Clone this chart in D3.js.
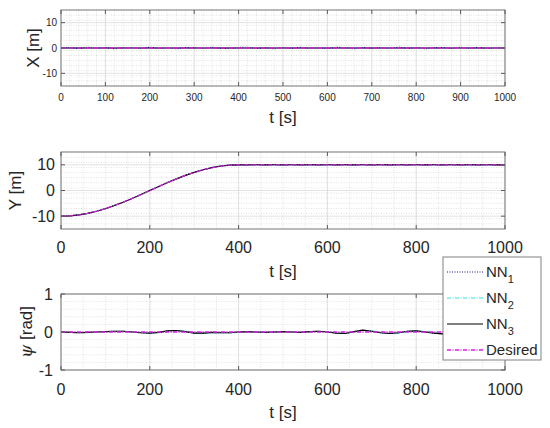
<!DOCTYPE html>
<html>
<head>
<meta charset="utf-8">
<style>
body { margin: 0; background: #fff; }
svg text { font-family: "Liberation Sans", Arial, sans-serif; fill: #262626; }
.box { fill: none; stroke: #7a7a7a; stroke-width: 1; }
.major { stroke: #dcdcdc; stroke-width: 0.8; }
.minor { stroke: #cfcfcf; stroke-width: 0.6; stroke-dasharray: 1,1.5; }
.tick { stroke: #5a5a5a; stroke-width: 1; }
</style>
</head>
<body>
<svg id="chart" width="550" height="428"></svg>
<script src="https://cdn.jsdelivr.net/npm/d3@7/dist/d3.min.js"></script>
<script>
// sample times (s)
var tSec = [0, 20, 40, 60, 80, 100, 120, 140, 160, 180, 200, 220, 240, 260, 280, 300, 320, 340, 360, 380,
            400, 420, 440, 460, 480, 500, 520, 540, 560, 580, 600, 620, 640, 660, 680, 700, 720, 740, 760, 780,
            800, 820, 840, 860, 880, 900, 920, 940, 960, 980, 1000];

// X [m]
var xDesired = [0, 0, 0, 0, 0, 0, 0, 0, 0, 0, 0, 0, 0, 0, 0, 0, 0, 0, 0, 0,
                0, 0, 0, 0, 0, 0, 0, 0, 0, 0, 0, 0, 0, 0, 0, 0, 0, 0, 0, 0,
                0, 0, 0, 0, 0, 0, 0, 0, 0, 0, 0];
var xNN1 = [0, 0.2, -0.2, 0.3, -0.1, 0.2, -0.3, 0.1, 0.2, -0.2, 0.3, -0.2, 0.1, -0.3, 0.2, 0.1, -0.2, 0.3, -0.1, -0.2,
            0.2, 0.3, -0.2, 0.1, -0.3, 0.2, -0.1, 0.3, -0.2, 0.1, -0.2, 0.3, 0.1, -0.3, 0.2, -0.1, 0.2, -0.2, 0.3, -0.1,
            0.2, -0.3, 0.1, 0.2, -0.2, 0.3, -0.1, 0.2, -0.2, 0.1, 0];
var xNN2 = [0, -0.05, 0.05, -0.05, 0.05, -0.05, 0.05, -0.02, 0.05, -0.05, 0.02, 0.05, -0.05, 0.05, -0.02, -0.05, 0.05, -0.05, 0.05, 0.02,
            -0.05, 0.05, -0.02, 0.05, -0.05, 0.05, -0.05, 0.02, 0.05, -0.05, 0.05, -0.02, -0.05, 0.05, -0.05, 0.05, -0.02, 0.05, -0.05, 0.05,
            -0.05, 0.02, -0.05, 0.05, -0.02, 0.05, -0.05, 0.02, 0.05, -0.05, 0];
var xNN3 = [0, 0.02, -0.01, 0.01, -0.02, 0.01, -0.01, 0.02, -0.01, 0.01, -0.02, 0.01, 0.01, -0.01, 0.02, -0.01, 0.01, -0.02, 0.01, -0.01,
            0.02, -0.01, 0.01, -0.02, 0.01, -0.01, 0.02, -0.01, 0.01, -0.01, 0.02, -0.02, 0.01, -0.01, 0.01, -0.02, 0.01, 0.01, -0.01, 0.02,
            -0.01, 0.01, -0.02, 0.01, -0.01, 0.02, -0.01, 0.01, -0.01, 0.01, 0];

// Y [m]
var yDesired = [-10, -9.88, -9.51, -8.91, -8.09, -7.07, -5.88, -4.54, -3.09, -1.56, 0, 1.56, 3.09, 4.54, 5.88, 7.07, 8.09, 8.91, 9.51, 9.88,
                10, 10, 10, 10, 10, 10, 10, 10, 10, 10, 10, 10, 10, 10, 10, 10, 10, 10, 10, 10,
                10, 10, 10, 10, 10, 10, 10, 10, 10, 10, 10];
var yNN1 = [-10, -9.9, -9.5, -8.95, -8.05, -7.1, -5.85, -4.55, -3.05, -1.6, 0.05, 1.5, 3.1, 4.5, 5.9, 7.05, 8.1, 8.9, 9.55, 9.85,
            10.05, 9.95, 10.05, 9.95, 10.05, 9.95, 10.05, 9.95, 10.05, 9.95, 10.05, 9.95, 10.05, 9.95, 10.05, 9.95, 10.05, 9.95, 10.05, 9.95,
            10.05, 9.95, 10.05, 9.95, 10.05, 9.95, 10.05, 9.95, 10.05, 9.95, 10];
var yNN2 = [-10, -9.87, -9.52, -8.9, -8.1, -7.06, -5.9, -4.52, -3.1, -1.55, -0.02, 1.57, 3.08, 4.55, 5.87, 7.08, 8.08, 8.92, 9.5, 9.9,
            10, 10.02, 9.98, 10.02, 9.98, 10.02, 9.98, 10.02, 9.98, 10.02, 9.98, 10.02, 9.98, 10.02, 9.98, 10.02, 9.98, 10.02, 9.98, 10.02,
            9.98, 10.02, 9.98, 10.02, 9.98, 10.02, 9.98, 10.02, 9.98, 10.02, 10];
var yNN3 = [-10, -9.88, -9.5, -8.92, -8.08, -7.08, -5.87, -4.55, -3.08, -1.57, 0.02, 1.55, 3.1, 4.53, 5.89, 7.06, 8.1, 8.9, 9.52, 9.87,
            10, 9.99, 10.01, 9.99, 10.01, 9.99, 10.01, 9.99, 10.01, 9.99, 10.01, 9.99, 10.01, 9.99, 10.01, 9.99, 10.01, 9.99, 10.01, 9.99,
            10.01, 9.99, 10.01, 9.99, 10.01, 9.99, 10.01, 9.99, 10.01, 9.99, 10];

// psi [rad]
var psiDesired = [0, 0, 0, 0, 0, 0, 0, 0, 0, 0, 0, 0, 0, 0, 0, 0, 0, 0, 0, 0,
                  0, 0, 0, 0, 0, 0, 0, 0, 0, 0, 0, 0, 0, 0, 0, 0, 0, 0, 0, 0,
                  0, 0, 0, 0, 0, 0, 0, 0, 0, 0, 0];
var psiNN1 = [0, -0.01, -0.02, -0.01, 0, 0.01, 0.02, 0.02, 0, -0.02, -0.03, -0.01, 0.03, 0.04, 0.01, -0.03, -0.03, -0.01, -0.02, -0.02,
              0, 0.01, 0, -0.01, 0, 0.01, 0, -0.01, 0.01, 0.02, 0, -0.03, -0.04, 0.01, 0.05, 0.02, -0.02, -0.04, -0.02, 0.02,
              0.03, 0, -0.03, -0.05, -0.02, 0.01, 0.02, 0, -0.01, 0, 0];
var psiNN2 = [0, -0.01, -0.01, -0.02, 0, 0.01, 0.01, 0.02, 0.01, -0.01, -0.02, -0.02, 0.02, 0.03, 0.02, -0.02, -0.04, -0.02, -0.01, -0.02,
              -0.01, 0.01, 0.01, -0.01, -0.01, 0.01, 0.01, -0.01, 0, 0.02, 0.01, -0.02, -0.04, 0, 0.04, 0.03, -0.01, -0.04, -0.03, 0.01,
              0.04, 0.01, -0.02, -0.05, -0.03, 0, 0.02, 0.01, -0.01, 0, 0];
var psiNN3 = [0, -0.01, -0.02, -0.01, 0, 0.01, 0.02, 0.02, 0, -0.02, -0.03, -0.01, 0.03, 0.04, 0.01, -0.03, -0.03, -0.01, -0.02, -0.02,
              0, 0.01, 0, -0.01, 0, 0.01, 0, -0.01, 0.01, 0.02, 0, -0.03, -0.04, 0.01, 0.05, 0.02, -0.02, -0.04, -0.02, 0.02,
              0.03, 0, -0.03, -0.05, -0.02, 0.01, 0.02, 0, -0.01, 0, 0];

var legendNames = ["NN", "NN", "NN", "Desired"];
var legendSubs = ["1", "2", "3", ""];

var styles = [
  { color: "#1a1a8c", dash: "1,1.5", width: 1.2 },
  { color: "#33e0e0", dash: "4,1.5,1,1.5", width: 1.2 },
  { color: "#000000", dash: null, width: 1.1 },
  { color: "#e020e0", dash: "4,1.5,1,1.5", width: 1.3 }
];

var svg = d3.select("#chart");
var left = 61, right = 505;

function drawPanel(p) {
  var x = d3.scaleLinear().domain([0, 1000]).range([left, right]);
  var y = d3.scaleLinear().domain(p.yDomain).range([p.bottom, p.top]);
  var g = svg.append("g");

  // minor grid
  g.selectAll(".mx").data(d3.range(0, 1000.01, p.xMinor)).enter().append("line")
    .attr("class", "minor")
    .attr("x1", function(d) { return x(d); }).attr("x2", function(d) { return x(d); })
    .attr("y1", p.top).attr("y2", p.bottom);
  g.selectAll(".my").data(d3.range(p.yDomain[0], p.yDomain[1] + 1e-6, p.yMinor)).enter().append("line")
    .attr("class", "minor")
    .attr("x1", left).attr("x2", right)
    .attr("y1", function(d) { return y(d); }).attr("y2", function(d) { return y(d); });

  // major grid
  g.selectAll(".gx").data(p.xTicks).enter().append("line")
    .attr("class", "major")
    .attr("x1", function(d) { return x(d); }).attr("x2", function(d) { return x(d); })
    .attr("y1", p.top).attr("y2", p.bottom);
  g.selectAll(".gy").data(p.yTicks).enter().append("line")
    .attr("class", "major")
    .attr("x1", left).attr("x2", right)
    .attr("y1", function(d) { return y(d); }).attr("y2", function(d) { return y(d); });

  // series
  var line = d3.line()
    .x(function(d) { return x(d[0]); })
    .y(function(d) { return y(d[1]); });
  p.series.forEach(function(s, i) {
    g.append("path")
      .datum(tSec.map(function(t, k) { return [t, s[k]]; }))
      .attr("d", line)
      .attr("fill", "none")
      .attr("stroke", styles[i].color)
      .attr("stroke-width", styles[i].width)
      .attr("stroke-dasharray", styles[i].dash);
  });

  // box
  g.append("rect").attr("class", "box")
    .attr("x", left).attr("y", p.top)
    .attr("width", right - left).attr("height", p.bottom - p.top);

  // inner ticks (top/bottom and left/right)
  var tl = 4;
  p.xTicks.forEach(function(d) {
    g.append("line").attr("class", "tick").attr("x1", x(d)).attr("x2", x(d)).attr("y1", p.bottom).attr("y2", p.bottom - tl);
    g.append("line").attr("class", "tick").attr("x1", x(d)).attr("x2", x(d)).attr("y1", p.top).attr("y2", p.top + tl);
  });
  p.yTicks.forEach(function(d) {
    g.append("line").attr("class", "tick").attr("x1", left).attr("x2", left + tl).attr("y1", y(d)).attr("y2", y(d));
    g.append("line").attr("class", "tick").attr("x1", right).attr("x2", right - tl).attr("y1", y(d)).attr("y2", y(d));
  });

  // tick labels
  g.selectAll(".xl").data(p.xTicks).enter().append("text")
    .attr("x", function(d) { return x(d); })
    .attr("y", p.xLabelY)
    .attr("text-anchor", "middle")
    .style("font-size", p.tickSize + "px")
    .text(function(d) { return d; });
  g.selectAll(".yl").data(p.yTicks).enter().append("text")
    .attr("x", left - p.yGap)
    .attr("y", function(d) { return y(d); })
    .attr("dy", "0.35em")
    .attr("text-anchor", "end")
    .style("font-size", p.tickSize + "px")
    .text(function(d) { return d; });

  // axis titles
  g.append("text")
    .attr("x", (left + right) / 2)
    .attr("y", p.titleY)
    .attr("text-anchor", "middle")
    .style("font-size", "17px")
    .text("t [s]");
  var yt = g.append("text")
    .attr("transform", "translate(" + p.ylabX + "," + ((p.top + p.bottom) / 2) + ") rotate(-90)")
    .attr("text-anchor", "middle")
    .style("font-size", "17px");
  if (p.psi) {
    yt.append("tspan").style("font-style", "italic").style("font-family", "DejaVu Serif, serif").text("\u03C8");
    yt.append("tspan").text(" [rad]");
  } else {
    yt.text(p.ylabel);
  }
}

drawPanel({
  top: 10, bottom: 86, yDomain: [-15, 15],
  xTicks: [0, 100, 200, 300, 400, 500, 600, 700, 800, 900, 1000], xMinor: 20,
  yTicks: [-10, 0, 10], yMinor: 2,
  series: [xNN1, xNN2, xNN3, xDesired],
  tickSize: 10, xLabelY: 101, yGap: 4, titleY: 123, ylabX: 39, ylabel: "X [m]"
});

drawPanel({
  top: 152, bottom: 229, yDomain: [-15, 15],
  xTicks: [0, 200, 400, 600, 800, 1000], xMinor: 50,
  yTicks: [-10, 0, 10], yMinor: 2,
  series: [yNN1, yNN2, yNN3, yDesired],
  tickSize: 16, xLabelY: 253, yGap: 6, titleY: 277, ylabX: 21, ylabel: "Y [m]"
});

drawPanel({
  top: 294, bottom: 370, yDomain: [-1, 1],
  xTicks: [0, 200, 400, 600, 800, 1000], xMinor: 50,
  yTicks: [-1, 0, 1], yMinor: 0.2,
  series: [psiNN1, psiNN2, psiNN3, psiDesired],
  tickSize: 16, xLabelY: 395, yGap: 8, titleY: 418, ylabX: 32, psi: true
});

// legend
var lg = svg.append("g");
lg.append("rect")
  .attr("x", 443).attr("y", 257).attr("width", 98).attr("height", 103)
  .attr("fill", "#fff").attr("stroke", "#808080").attr("stroke-width", 1);
var ly = d3.scalePoint().domain(d3.range(legendNames.length)).range([272, 350]);
legendNames.forEach(function(name, i) {
  lg.append("line")
    .attr("x1", 447).attr("x2", 483)
    .attr("y1", ly(i)).attr("y2", ly(i))
    .attr("stroke", styles[i].color)
    .attr("stroke-width", styles[i].width)
    .attr("stroke-dasharray", styles[i].dash);
  var t = lg.append("text")
    .attr("x", 486).attr("y", ly(i))
    .attr("dy", "0.35em")
    .style("font-size", "15px")
    .text(name);
  if (legendSubs[i]) {
    t.append("tspan").attr("dy", "6").style("font-size", "11px").text(legendSubs[i]);
  }
});
</script>
</body>
</html>
